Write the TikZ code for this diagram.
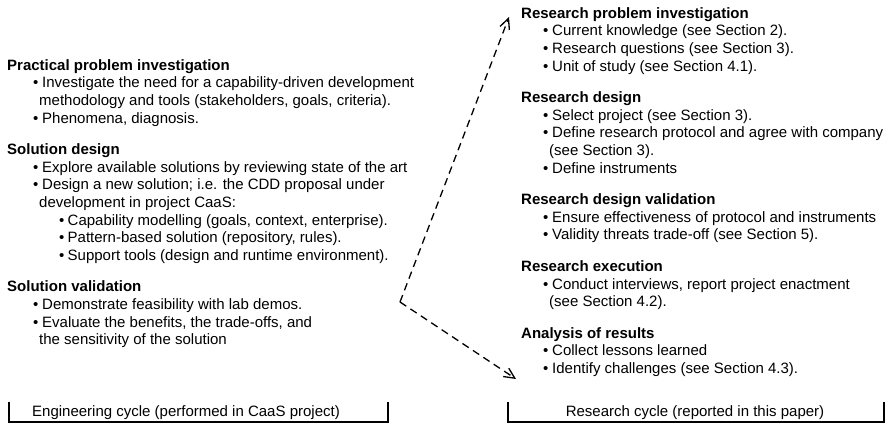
\documentclass[tikz,border=0pt]{standalone}
\usepackage{fontspec}
\setmainfont{Liberation Sans}
\usetikzlibrary{arrows.meta}

% list helpers: bullet, continuation and sub-bullet indents
\newcommand\lbul{\hspace*{26pt}\makebox[9pt][l]{\textbullet}}
\newcommand\lcont{\hspace*{32pt}}
\newcommand\lsub{\hspace*{52pt}\makebox[8.5pt][l]{\textbullet}}
\newcommand\rbul{\hspace*{22pt}\makebox[9pt][l]{\textbullet}}
\newcommand\rcont{\hspace*{28pt}}
% fixed first-line height, so a block's top sits 12pt above its first baseline
\newcommand\head[1]{\rule{0pt}{12pt}\textbf{#1}}

\tikzset{
  block/.style={anchor=north west, align=left, inner sep=0pt,
    font=\fontsize{15}{17.6}\selectfont},
  cyclelabel/.style={inner sep=0pt, font=\fontsize{15}{17.6}\selectfont},
  bracket/.style={line width=1.2pt},
  flow/.style={line width=1.3pt, dash pattern=on 7.5pt off 5pt,
    -{Straight Barb[length=10.5pt,width=10pt]}}
}

\begin{document}
\begin{tikzpicture}[x=1pt,y=-1pt]
\useasboundingbox (0,0) rectangle (891,426);

% engineering cycle (block tops = first baseline - 12)
\node[block] (ppi) at (7,58) {\head{Practical problem investigation}\\
  \lbul Investigate the need for a capability-driven development\\
  \lcont methodology and tools (stakeholders, goals, criteria).\\
  \lbul Phenomena, diagnosis.};
\node[block] (sd) at (7,142.4) {\head{Solution design}\\
  \lbul Explore available solutions by reviewing state of the art\\
  \lbul Design a new solution; i.e. the CDD proposal under\\
  \lcont development in project CaaS:\\
  \lsub Capability modelling (goals, context, enterprise).\\
  \lsub Pattern-based solution (repository, rules).\\
  \lsub Support tools (design and runtime environment).};
\node[block] (sv) at (7,279.6) {\head{Solution validation}\\
  \lbul Demonstrate feasibility with lab demos.\\
  \lbul Evaluate the benefits, the trade-offs, and\\
  \lcont the sensitivity of the solution};

% research cycle
\node[block] (rpi) at (521,6) {\head{Research problem investigation}\\
  \rbul Current knowledge (see Section 2).\\
  \rbul Research questions (see Section 3).\\
  \rbul Unit of study (see Section 4.1).};
\node[block] (rd) at (521,90.4) {\head{Research design}\\
  \rbul Select project (see Section 3).\\
  \rbul Define research protocol and agree with company\\
  \rcont (see Section 3).\\
  \rbul Define instruments};
\node[block] (rdv) at (521,192.4) {\head{Research design validation}\\
  \rbul Ensure effectiveness of protocol and instruments\\
  \rbul Validity threats trade-off (see Section 5).};
\node[block] (rex) at (521,259.2) {\head{Research execution}\\
  \rbul Conduct interviews, report project enactment\\
  \rcont (see Section 4.2).};
\node[block] (aor) at (521,326) {\head{Analysis of results}\\
  \rbul Collect lessons learned\\
  \rbul Identify challenges (see Section 4.3).};

% transfer arrows between the cycles
\coordinate (turn) at (400,302);
\coordinate (upTip) at (509,17);
\coordinate (downTip) at (516,379);
\draw[flow] (turn) -- (upTip);
\draw[flow] (turn) -- (downTip);

% cycle brackets
\node[cyclelabel] (engLabel) at (186,413) {Engineering cycle (performed in CaaS project)};
\node[cyclelabel] (resLabel) at (695,413) {Research cycle (reported in this paper)};
\draw[bracket] (9,402) |- (388,422) -- (388,402);
\draw[bracket] (508,402) |- (884,422) -- (884,402);
\end{tikzpicture}
\end{document}
